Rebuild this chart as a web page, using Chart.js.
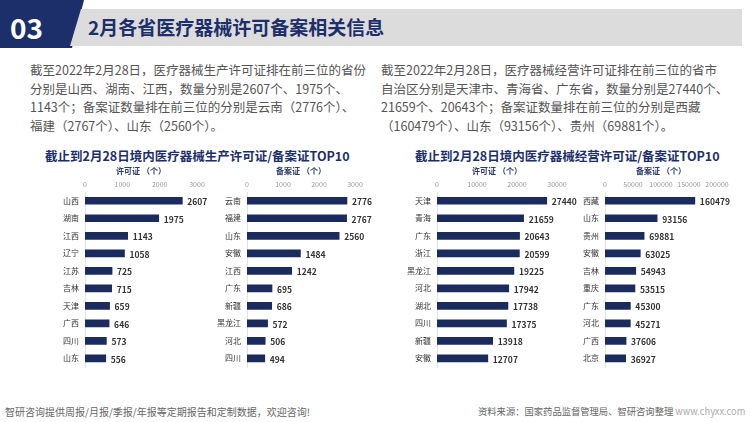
<!DOCTYPE html>
<html>
<head>
<meta charset="utf-8">
<script src="https://cdn.jsdelivr.net/npm/chart.js@4"></script>
<style>
  body { margin: 0; width: 750px; height: 422px; background: #fff; position: relative; overflow: hidden;
         font-family: "Noto Sans CJK SC", "Noto Sans", sans-serif; }
  .navy { position: absolute; left: 0; top: 0; width: 90px; height: 48px; background: #1d2f6b;
          clip-path: polygon(0 0, 84px 0, 72px 48px, 0 48px); }
  .num { position: absolute; left: 10px; top: 7px; color: #fff; font-size: 28px; font-weight: bold; }
  .band { position: absolute; left: 70px; top: 9px; width: 672px; height: 37px; background: #dcdcdc;
          clip-path: polygon(11px 0, 672px 0, 672px 37px, 0 37px); }
  .head { position: absolute; left: 88px; top: 13px; color: #1d2f6b; font-size: 19px; font-weight: bold; }
  .para { position: absolute; top: 61px; color: #555; font-size: 12.5px; line-height: 18.5px; white-space: nowrap; }
  .ctitle { position: absolute; top: 146px; color: #1d2f6b; font-size: 12.5px; font-weight: bold; white-space: nowrap; }
  canvas { position: absolute; }
  .foot { position: absolute; top: 404px; font-size: 10px; color: #666; white-space: nowrap; }
</style>
</head>
<body>
<div class="navy"></div>
<div class="num">03</div>
<div class="band"></div>
<div class="head">2月各省医疗器械许可备案相关信息</div>

<div class="para" style="left:30px">截至2022年2月28日，医疗器械生产许可证排在前三位的省份<br>分别是山西、湖南、江西，数量分别是2607个、1975个、<br>1143个；备案证数量排在前三位的分别是云南（2776个）、<br>福建（2767个）、山东（2560个）。</div>
<div class="para" style="left:381px">截至2022年2月28日，医疗器械经营许可证排在前三位的省市<br>自治区分别是天津市、青海省、广东省，数量分别是27440个、<br>21659个、20643个；备案证数量排在前三位的分别是西藏<br>（160479个）、山东（93156个）、贵州（69881个）。</div>

<div class="ctitle" style="left:45px">截止到2月28日境内医疗器械生产许可证/备案证TOP10</div>
<div class="ctitle" style="left:415px">截止到2月28日境内医疗器械经营许可证/备案证TOP10</div>

<canvas id="c1" width="170" height="218" style="left:50px;top:160px"></canvas>
<canvas id="c2" width="165" height="218" style="left:215px;top:160px"></canvas>
<canvas id="c3" width="180" height="218" style="left:400px;top:160px"></canvas>
<canvas id="c4" width="170" height="218" style="left:580px;top:160px"></canvas>

<div class="foot" style="left:5px">智研咨询提供周报/月报/季报/年报等定期报告和定制数据，欢迎咨询!</div>
<div class="foot" style="left:478px;font-size:9.3px">资料来源：国家药品监督管理局、智研咨询整理 <span style="color:#aaa">www.chyxx.com</span></div>

<script>
// 生产许可证
let prodLicCats = ["山西", "湖南", "江西", "辽宁", "江苏", "吉林", "天津", "广西", "四川", "山东"];
let prodLicVals = [2607, 1975, 1143, 1058, 725, 715, 659, 646, 573, 556];
// 生产备案证
let prodRecCats = ["云南", "福建", "山东", "安徽", "江西", "广东", "新疆", "黑龙江", "河北", "四川"];
let prodRecVals = [2776, 2767, 2560, 1484, 1242, 695, 686, 572, 506, 494];
// 经营许可证
let bizLicCats = ["天津", "青海", "广东", "浙江", "黑龙江", "河北", "湖北", "四川", "新疆", "安徽"];
let bizLicVals = [27440, 21659, 20643, 20599, 19225, 17942, 17738, 17375, 13918, 12707];
// 经营备案证
let bizRecCats = ["西藏", "山东", "贵州", "安徽", "吉林", "重庆", "广东", "河北", "广西", "北京"];
let bizRecVals = [160479, 93156, 69881, 63025, 54943, 53515, 45300, 45271, 37606, 36927];

const FONT = '"Noto Sans CJK SC", "Noto Sans", sans-serif';

// value labels at the end of each bar + axis title above the ticks
const barText = {
    id: 'barText',
    afterDatasetsDraw(chart, args, opts) {
        let ctx = chart.ctx;
        let meta = chart.getDatasetMeta(0);
        ctx.save();
        ctx.font = '600 8.5px ' + FONT;
        ctx.fillStyle = '#333';
        ctx.textBaseline = 'middle';
        meta.data.forEach((bar, i) => {
            ctx.fillText(chart.data.datasets[0].data[i], bar.x + 5, bar.y + 1);
        });
        let area = chart.chartArea;
        ctx.font = 'bold 8px ' + FONT;
        ctx.fillStyle = '#2b3a6b';
        ctx.textAlign = 'center';
        ctx.fillText(opts.title, (area.left + area.right) / 2, area.top - 21);
        ctx.restore();
    }
};

function makeChart(id, cats, vals, axisTitle, max, step, yWidth, padRight) {
    new Chart(document.getElementById(id), {
        type: 'bar',
        data: {
            labels: cats,
            datasets: [{
                data: vals,
                backgroundColor: '#1b2b5e',
                barThickness: 7
            }]
        },
        options: {
            indexAxis: 'y',
            responsive: false,
            animation: false,
            layout: { padding: { top: 0, right: padRight, bottom: 6, left: 0 } },
            plugins: { legend: { display: false }, tooltip: { enabled: false }, barText: { title: axisTitle } },
            scales: {
                x: {
                    position: 'top',
                    min: 0,
                    max: max,
                    grid: { display: false, drawTicks: false, tickLength: 0 },
                    border: { display: false },
                    ticks: { stepSize: step, padding: 3, color: '#999', font: { size: 7, family: FONT },
                             maxRotation: 0, minRotation: 0, autoSkip: false,
                             callback: v => String(v) },
                    afterFit(scale) { scale.height = 32; }
                },
                y: {
                    grid: { display: false, drawTicks: false, tickLength: 0 },
                    border: { display: true, color: '#e2e2e2' },
                    ticks: { color: '#333', padding: 6, font: { size: 8, family: FONT } },
                    afterFit(scale) { scale.width = yWidth; }
                }
            }
        },
        plugins: [barText]
    });
}

makeChart('c1', prodLicCats, prodLicVals, '许可证 （个）', 3000, 1000, 35, 23);
makeChart('c2', prodRecCats, prodRecVals, '备案证 （个）', 3000, 1000, 32, 25);
makeChart('c3', bizLicCats, bizLicVals, '许可证 （个）', 30000, 10000, 37, 23);
makeChart('c4', bizRecCats, bizRecVals, '备案证 （个）', 200000, 50000, 25, 33);
</script>
</body>
</html>
